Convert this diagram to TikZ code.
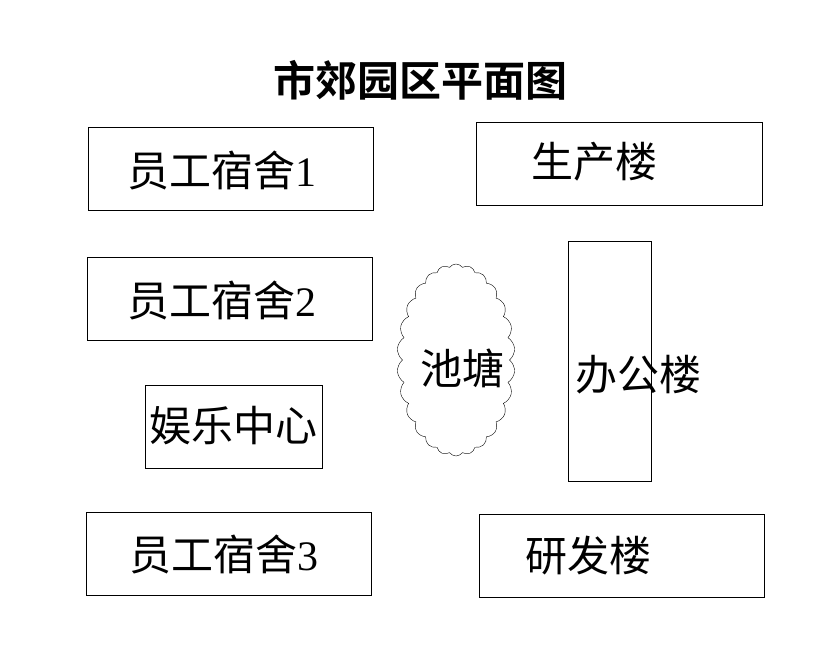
\documentclass[tikz,border=0pt]{standalone}
\usepackage{fontspec}
\setmainfont{Liberation Serif}
\newfontfamily\cjk{Noto Sans CJK SC}
\newfontfamily\cjkb{Noto Sans CJK SC Bold}
\usetikzlibrary{shapes.symbols}
\begin{document}
\begin{tikzpicture}[x=1pt,y=-1pt,
  bx/.style={draw,line width=0.8pt},
  lab/.style={font=\fontsize{42}{42}\selectfont,inner sep=0pt}]
\useasboundingbox (0,0) rectangle (822,666);
\node[font=\fontsize{42}{42}\selectfont\cjkb] (t) at (420,80) {市郊园区平面图};
\draw[bx] (88,127) rectangle (373,210);
\node[lab] (d1) at (222,170) {{\cjk 员工宿舍}1};
\draw[bx] (476,122) rectangle (762,205);
\node[lab] (p) at (594,162) {\cjk 生产楼};
\draw[bx] (87,257) rectangle (372,340);
\node[lab] (d2) at (222,300) {{\cjk 员工宿舍}2};
\draw[bx] (568,241) rectangle (651,481);
\node[lab] (o) at (638,375) {\cjk 办公楼};
\draw[bx] (145,385) rectangle (322,468);
\node[lab] (e) at (233,426) {\cjk 娱乐中心};
\draw[bx] (86,512) rectangle (371,595);
\node[lab] (d3) at (224,554) {{\cjk 员工宿舍}3};
\draw[bx] (479,514) rectangle (764,597);
\node[lab] (r) at (588,556) {\cjk 研发楼};
\node[cloud,draw,cloud puffs=26,cloud puff arc=110,minimum width=118pt,minimum height=192pt,inner sep=0pt,aspect=0.6] (c) at (456,360) {};
\node[lab] (pond) at (462,368) {\cjk 池塘};
\end{tikzpicture}
\end{document}
